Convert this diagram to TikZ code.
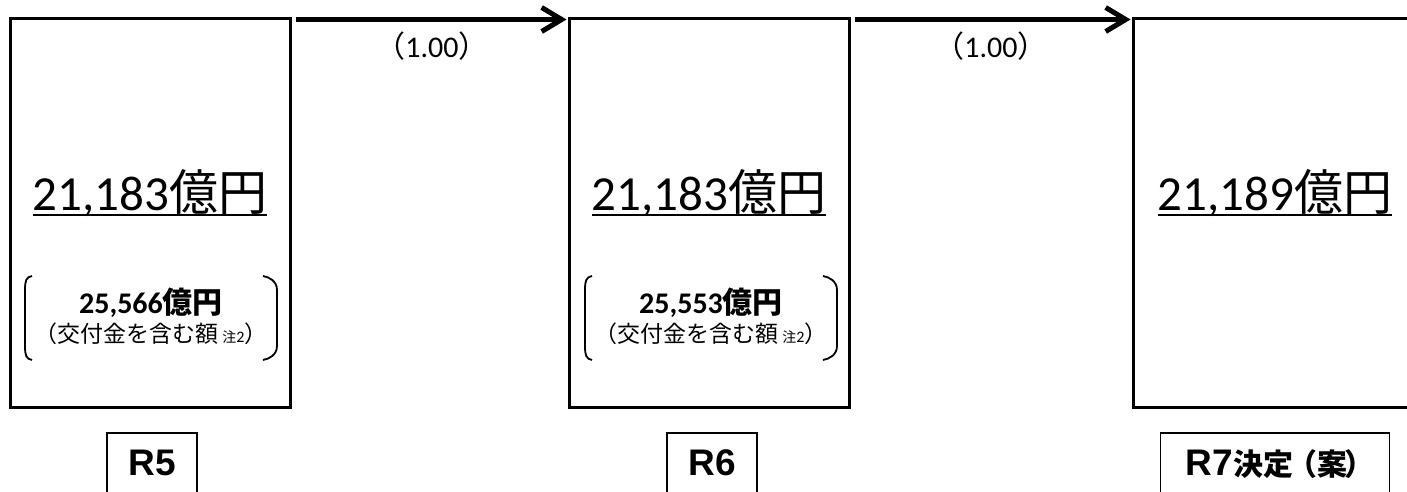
\documentclass[tikz,border=0pt]{standalone}
\usepackage{fontspec}
\setmainfont{Carlito}
\newfontfamily\jp{Noto Sans CJK JP}
\newfontfamily\arl{Liberation Sans}
\usetikzlibrary{arrows.meta}
\tikzset{
  bigbox/.style={draw, line width=3pt, minimum width=280pt, minimum height=388pt, inner sep=0pt},
  labbox/.style={draw, line width=1.5pt, minimum height=80pt, inner sep=0pt, anchor=north},
  flow/.style={line width=5pt, -{Straight Barb[length=20pt,width=24pt]}},
  big/.style={anchor=base, inner sep=0pt, font=\fontsize{49}{50}\selectfont},
  sub/.style={anchor=base, inner sep=0pt, font=\bfseries\fontsize{30}{32}\selectfont},
  note/.style={anchor=base, inner sep=0pt, font=\fontsize{23}{24}\selectfont},
  ratio/.style={anchor=base, inner sep=0pt, font=\fontsize{30}{32}\selectfont},
  yr/.style={anchor=base, inner sep=0pt, font=\arl\bfseries\fontsize{37}{38}\selectfont},
  brk/.style={line width=1.8pt}
}
\begin{document}
\begin{tikzpicture}[x=1pt,y=-1pt]
\useasboundingbox (0,0) rectangle (1407,492);
\clip (0,0) rectangle (1407,492);
% main boxes
\node[bigbox] (b1) at (150,213) {};
\node[bigbox] (b2) at (709,213) {};
\node[bigbox] (b3) at (1273,213) {};
% arrows
\draw[flow] ([xshift=4pt,yshift=-2pt]b1.north east) -- ([xshift=-1pt,yshift=-2pt]b2.north west);
\draw[flow] ([xshift=4pt,yshift=-2pt]b2.north east) -- ([xshift=-1pt,yshift=-2pt]b3.north west);
\node[ratio] (r1) at (432,58) {{\jp （}1.00{\jp ）}};
\node[ratio] (r2) at (991,58) {{\jp （}1.00{\jp ）}};
% big amounts
\node[big] (t1) at (150,210) {21,183{\jp 億円}};
\node[big] (t2) at (709,210) {21,183{\jp 億円}};
\node[big] (t3) at (1275,210) {21,189{\jp 億円}};
\foreach \t in {t1,t2,t3}{
  \draw[line width=2pt] ([yshift=-5pt]\t.base west) -- ([yshift=-5pt]\t.base east);
}
% sub amounts
\node[sub] (s1) at (151,313) {25,566{\jp\bfseries 億円}};
\node[note] (n1) at (151,342) {{\jp （交付金を含む額\,}{\fontsize{14}{14}\selectfont\jp 注}{\fontsize{16}{16}\selectfont 2}{\jp ）}};
\node[sub] (s2) at (711,313) {25,553{\jp\bfseries 億円}};
\node[note] (n2) at (711,342) {{\jp （交付金を含む額\,}{\fontsize{14}{14}\selectfont\jp 注}{\fontsize{16}{16}\selectfont 2}{\jp ）}};
% brackets
\foreach \c in {151,711}{
  \draw[brk] (\c-119,276) .. controls (\c-125,277) and (\c-126,281) .. (\c-126,290) -- (\c-126,346) .. controls (\c-126,355) and (\c-125,359) .. (\c-119,360);
  \draw[brk] (\c+112,276) .. controls (\c+118,277) and (\c+126,281) .. (\c+126,290) -- (\c+126,346) .. controls (\c+126,355) and (\c+118,359) .. (\c+112,360);
}
% year labels
\node[labbox, minimum width=90pt] (l1) at (152,432) {};
\node[labbox, minimum width=90pt] (l2) at (712,432) {};
\node[labbox, minimum width=229pt] (l3) at (1275,432) {};
\node[yr] (y1) at (152,475) {R5};
\node[yr] (y2) at (712,475) {R6};
\node[yr] (y3) at (1276,475) {R7{\jp\bfseries\fontsize{30}{32}\selectfont 決定\kern-6pt（案\kern-3pt）\kern-8pt}};
\end{tikzpicture}
\end{document}
